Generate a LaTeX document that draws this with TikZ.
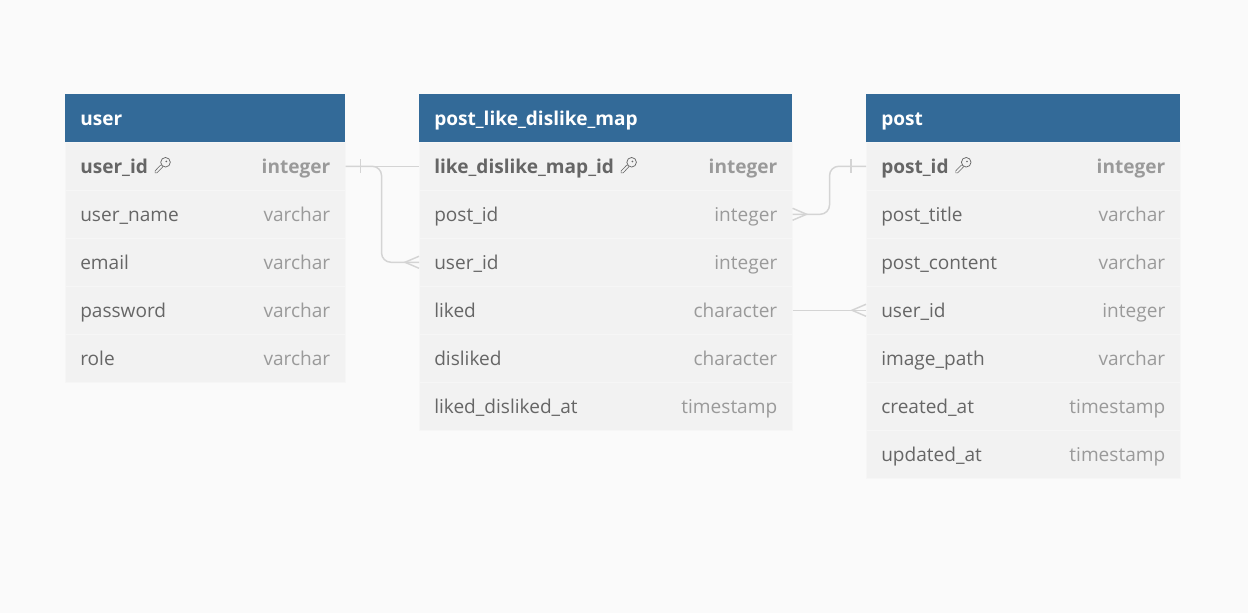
\documentclass[tikz,border=0pt]{standalone}
\usepackage{fontspec}
\setmainfont{Open Sans}
\usetikzlibrary{positioning}
\definecolor{bgpaper}{HTML}{FAFAFA}
\definecolor{headblue}{HTML}{336A98}
\definecolor{rowgray}{HTML}{F2F2F2}
\definecolor{rowline}{HTML}{F6F6F6}
\definecolor{namegray}{HTML}{666666}
\definecolor{typegray}{HTML}{9A9A9A}
\definecolor{linkgray}{HTML}{D4D4D4}
\begin{document}
\begin{tikzpicture}[x=0.75pt,y=-0.75pt,line cap=butt,line join=miter]
				\tikzset{headbox/.style={draw=none,fill=headblue,minimum height=36pt,inner sep=0pt,anchor=north west},
					rowbox/.style={draw=rowline,line width=0.4pt,fill=rowgray,minimum height=36pt,inner sep=0pt,anchor=north west},
					txt/.style={inner ysep=0pt,text height=14pt,text depth=3.5pt,font=\fontsize{14.3}{17}\selectfont},
					bold/.style={font=\fontsize{14.3}{17}\selectfont\bfseries},
					headtext/.style={txt,bold,anchor=west,inner xsep=11.25pt,text=white},
					fname/.style={txt,anchor=west,inner xsep=11.25pt,text=namegray},
					ftype/.style={txt,anchor=east,inner xsep=11.25pt,text=typegray},
					keyline/.style={draw=namegray,line width=0.55pt},
					conn/.style={draw=linkgray,line width=1.1pt},
					keyicon/.pic={\draw[keyline,line cap=round,double=rowgray,double distance=1.4pt] (7.2,-0.3) -- (1.5,5.6);
						\draw[keyline,fill=rowgray] (11,-4) circle (3.6pt);
						\fill[namegray] (11.8,-4.8) circle (0.7pt);}
				}
				\fill[bgpaper] (0,0) rectangle (1248,613);
				\useasboundingbox (0,0) rectangle (1248,613);
				% user
				\node[headbox,minimum width=210pt] (user) at (65,94) {};
				\node[headtext] at (user.west) {user};
				\foreach \n/\t [count=\i] in {user\_id/integer,user\_name/varchar,email/varchar,password/varchar,role/varchar}{
					\node[rowbox,minimum width=210pt] (u\i) at (65,94+48*\i) {};
					\ifnum\i=1
						\node[fname,bold] (uk) at (u\i.west) {\n};
						\node[ftype,bold] at (u\i.east) {\t};
					\else
						\node[fname] at (u\i.west) {\n};
						\node[ftype] at (u\i.east) {\t};
					\fi
				}
				\pic at ([xshift=-6.5pt]uk.east) {keyicon};
				% post_like_dislike_map
				\node[headbox,minimum width=279.75pt] (map) at (419,94) {};
				\node[headtext] at (map.west) {post\_like\_dislike\_map};
				\foreach \n/\t [count=\i] in {like\_dislike\_map\_id/integer,post\_id/integer,user\_id/integer,liked/character,disliked/character,liked\_disliked\_at/timestamp}{
					\node[rowbox,minimum width=279.75pt] (m\i) at (419,94+48*\i) {};
					\ifnum\i=1
						\node[fname,bold] (mk) at (m\i.west) {\n};
						\node[ftype,bold] at (m\i.east) {\t};
					\else
						\node[fname] at (m\i.west) {\n};
						\node[ftype] at (m\i.east) {\t};
					\fi
				}
				\pic at ([xshift=-6.5pt]mk.east) {keyicon};
				% post
				\node[headbox,minimum width=235.5pt] (post) at (866,94) {};
				\node[headtext] at (post.west) {post};
				\foreach \n/\t [count=\i] in {post\_id/integer,post\_title/varchar,post\_content/varchar,user\_id/integer,image\_path/varchar,created\_at/timestamp,updated\_at/timestamp}{
					\node[rowbox,minimum width=235.5pt] (p\i) at (866,94+48*\i) {};
					\ifnum\i=1
						\node[fname,bold] (pk) at (p\i.west) {\n};
						\node[ftype,bold] at (p\i.east) {\t};
					\else
						\node[fname] at (p\i.west) {\n};
						\node[ftype] at (p\i.east) {\t};
					\fi
				}
				\pic at ([xshift=-6.5pt]pk.east) {keyicon};
				% links
				\draw[conn] (u1.east) -- (m1.west);
				\draw[conn,rounded corners=7pt] (u1.east) -- ++(36,0) |- (m3.west);
				\draw[conn] ([xshift=11.25pt]u1.east) ++(0,-7) -- ++(0,14);
				\draw[conn] (m3.west) ++(0,-6) -- ++(-14,6) -- ++(14,6);
				\draw[conn,rounded corners=7pt] (m2.east) -- ++(37,0) |- (p1.west);
				\draw[conn] ([xshift=-11.25pt]p1.west) ++(0,-7) -- ++(0,14);
				\draw[conn] (m2.east) ++(0,-6) -- ++(14,6) -- ++(-14,6);
				\draw[conn] (m4.east) -- (p4.west);
				\draw[conn] (p4.west) ++(0,-6) -- ++(-14,6) -- ++(14,6);
			\end{tikzpicture}
\end{document}
